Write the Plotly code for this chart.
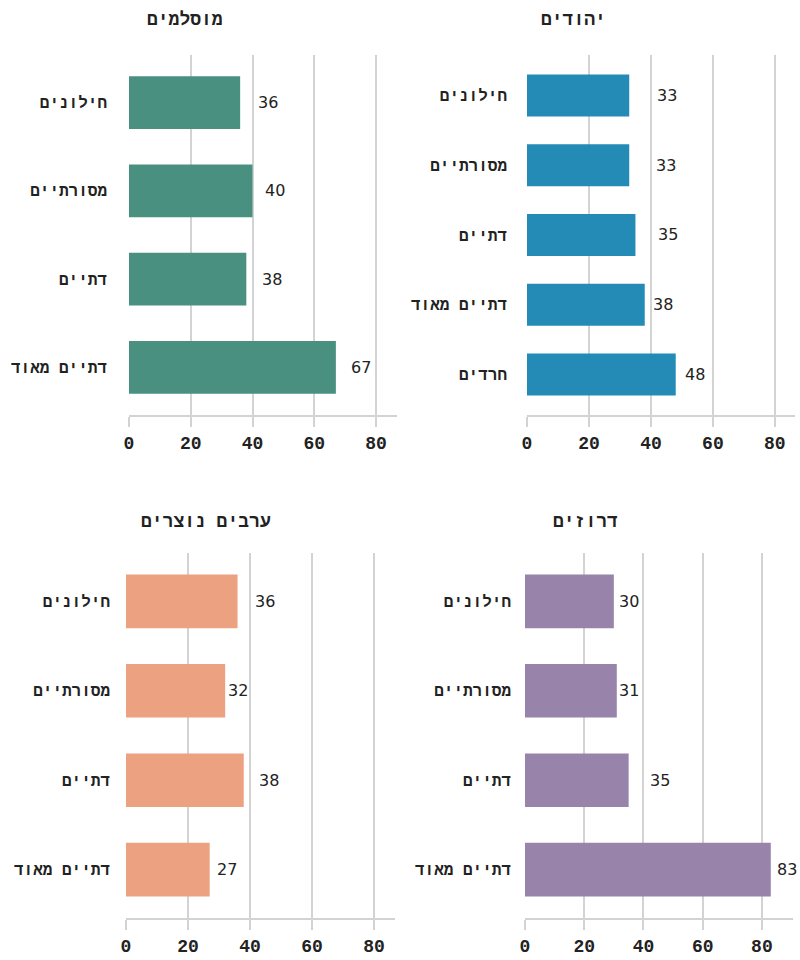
import plotly.graph_objects as go

# ---- data ----
muslim_cats = ["חילונים", "מסורתיים", "דתיים", "דתיים מאוד"]
muslim_vals = [36, 40, 38, 67]

jewish_cats = ["חילונים", "מסורתיים", "דתיים", "דתיים מאוד", "חרדים"]
jewish_vals = [33, 33, 35, 38, 48]

christian_cats = ["חילונים", "מסורתיים", "דתיים", "דתיים מאוד"]
christian_vals = [36, 32, 38, 27]

druze_cats = ["חילונים", "מסורתיים", "דתיים", "דתיים מאוד"]
druze_vals = [30, 31, 35, 83]

titles = ["מוסלמים", "יהודים", "ערבים נוצרים", "דרוזים"]
x_ticks = [0, 20, 40, 60, 80]

# ---- styling ----
colors = ["#4a9080", "#238bb5", "#eca281", "#9883aa"]
label_shift = [[28, 22, 26, 25], [38, 37, 33, 18, 19], [27, 13, 25, 17], [15, 12, 31, 16]]
W, H = 800, 960
# pixel boxes: (x0, x1, ytop, ybottom)
boxes = [(129, 397, 55, 415), (527, 795, 55, 415), (126, 395, 553, 918), (525, 793, 553, 918)]
xmax = [86.8, 86.5, 86.8, 90.5]
cat_standoff = [21, 19, 15, 13]
title_pos = [(185, 20), (573, 20), (206, 522), (585, 522)]

MONO = "Liberation Mono"
SANS = "DejaVu Sans"
GRID = "#d3d3d3"

panels = [
    (muslim_cats, muslim_vals),
    (jewish_cats, jewish_vals),
    (christian_cats, christian_vals),
    (druze_cats, druze_vals),
]

fig = go.Figure()
annotations = []
for i, (cats, vals) in enumerate(panels):
    n = i + 1
    xa = "x" if n == 1 else f"x{n}"
    ya = "y" if n == 1 else f"y{n}"
    fig.add_trace(go.Bar(
        x=vals, y=cats, orientation="h", xaxis=xa, yaxis=ya,
        marker=dict(color=colors[i], line=dict(width=0)), width=0.6,
        hoverinfo="x+y", showlegend=False,
    ))
    x0, x1, yt, yb = boxes[i]
    pad = 0.54 if len(cats) == 4 else 0.58
    fig.layout[f"xaxis{'' if n == 1 else n}"] = dict(
        domain=[x0 / W, x1 / W], range=[0, xmax[i]], anchor=ya,
        tickvals=x_ticks, showgrid=True, gridcolor=GRID, gridwidth=2,
        showline=True, linecolor=GRID, linewidth=2, zeroline=False,
        ticks="outside", ticklen=10, tickwidth=2, tickcolor=GRID,
        tickfont=dict(family=MONO, size=18, color="#222", weight="bold"),
        ticklabelstandoff=0, automargin=False, fixedrange=True,
    )
    fig.layout[f"yaxis{'' if n == 1 else n}"] = dict(
        domain=[1 - yb / H, 1 - yt / H], anchor=xa,
        categoryorder="array", categoryarray=cats,
        range=[len(cats) - 1 + pad, -pad],
        showgrid=False, zeroline=False, showline=False, ticks="",
        tickfont=dict(family=MONO, size=16, color="#222", weight="bold"),
        ticklabelstandoff=cat_standoff[i], automargin=False, fixedrange=True,
    )
    for j, (c, v) in enumerate(zip(cats, vals)):
        annotations.append(dict(
            x=v, y=c, xref=xa, yref=ya, text=str(v), showarrow=False,
            xanchor="center", yanchor="middle", xshift=label_shift[i][j],
            font=dict(family=SANS, size=16, color="#222"),
        ))
    tx, ty = title_pos[i]
    annotations.append(dict(
        x=tx / W, y=1 - ty / H, xref="paper", yref="paper", text=titles[i],
        showarrow=False, xanchor="center", yanchor="middle",
        font=dict(family=MONO, size=18, color="#222", weight="bold"),
    ))

fig.update_layout(
    width=W, height=H, margin=dict(l=0, r=0, t=0, b=0),
    paper_bgcolor="white", plot_bgcolor="white",
    annotations=annotations, bargap=0.4,
)
fig.write_html("out.html")
